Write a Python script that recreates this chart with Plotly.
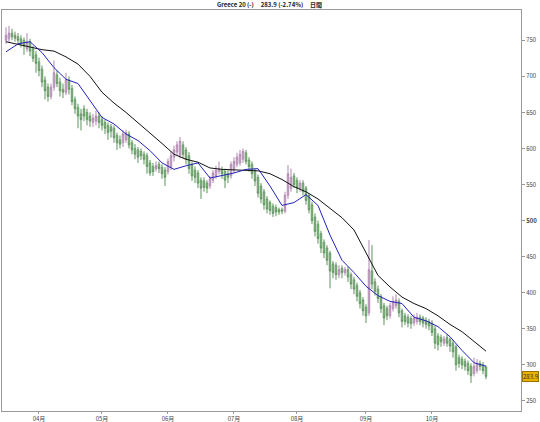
import pandas as pd
import plotly.graph_objects as go

# trading days (weekdays) of the daily chart
dates = pd.bdate_range("2011-03-17", periods=161)

opens = [750, 752, 760, 757, 755, 752, 750, 738, 748, 738, 730, 720, 710, 695, 685, 672, 685, 702, 692, 682,
         678, 695, 683, 668, 657, 648, 655, 650, 645, 636, 638, 645, 640, 636, 632, 630, 628, 618, 612, 608,
         612, 620, 608, 600, 598, 596, 592, 590, 580, 575, 572, 578, 574, 570, 568, 574, 588, 595, 590, 605,
         598, 590, 578, 570, 566, 556, 555, 552, 548, 556, 562, 568, 570, 568, 565, 562, 570, 578, 580, 585,
         594, 584, 578, 568, 560, 548, 540, 530, 525, 520, 518, 515, 515, 513, 535, 545, 562, 556, 545, 552,
         545, 535, 522, 505, 495, 482, 470, 462, 455, 440, 438, 425, 434, 428, 432, 425, 418, 410, 400, 390,
         380, 372, 430, 415, 405, 395, 382, 378, 368, 378, 382, 388, 375, 368, 366, 364, 358, 360, 366, 365,
         362, 360, 358, 350, 340, 338, 330, 338, 335, 330, 325, 310, 308, 305, 302, 298, 288, 292, 302, 300,
         297]
highs = [768, 770, 766, 762, 760, 757, 754, 760, 752, 742, 735, 726, 715, 700, 690, 690, 722, 708, 698, 690,
         705, 700, 688, 672, 662, 655, 660, 655, 650, 648, 652, 650, 645, 640, 636, 634, 632, 622, 618, 625,
         626, 624, 612, 606, 602, 600, 596, 594, 584, 580, 582, 582, 578, 574, 586, 596, 604, 610, 616, 610,
         602, 595, 582, 575, 570, 560, 560, 556, 562, 570, 576, 582, 575, 572, 570, 582, 588, 594, 598, 600,
         598, 588, 582, 572, 564, 552, 544, 534, 528, 524, 522, 518, 518, 540, 577, 572, 566, 560, 556, 556,
         548, 538, 526, 510, 500, 486, 474, 466, 458, 444, 442, 438, 438, 436, 436, 428, 422, 414, 404, 394,
         384, 473, 466, 420, 410, 398, 386, 382, 386, 395, 398, 392, 378, 372, 370, 368, 370, 372, 370, 368,
         366, 364, 362, 354, 344, 342, 340, 342, 338, 334, 328, 314, 312, 309, 306, 302, 310, 308, 306, 304,
         299]
lows = [745, 748, 750, 748, 745, 740, 730, 734, 728, 720, 705, 700, 685, 668, 665, 668, 680, 685, 672, 670,
        674, 675, 660, 648, 628, 625, 638, 632, 630, 630, 632, 628, 625, 620, 612, 615, 608, 598, 600, 602,
        608, 600, 592, 585, 580, 584, 578, 565, 562, 562, 568, 566, 558, 548, 564, 570, 582, 590, 586, 586,
        578, 565, 555, 552, 545, 530, 540, 538, 544, 552, 558, 564, 558, 545, 552, 558, 566, 574, 576, 580,
        578, 568, 558, 548, 532, 524, 515, 510, 508, 505, 506, 508, 509, 510, 530, 540, 545, 538, 540, 535,
        522, 510, 495, 478, 468, 455, 448, 438, 406, 420, 418, 420, 420, 424, 415, 405, 398, 388, 378, 368,
        358, 368, 405, 396, 386, 372, 355, 362, 364, 374, 378, 366, 352, 355, 352, 350, 354, 356, 355, 352,
        350, 348, 340, 322, 320, 325, 326, 325, 318, 310, 292, 296, 294, 292, 286, 275, 284, 288, 292, 287,
        280]
closes = [757, 760, 755, 753, 750, 746, 742, 748, 735, 725, 718, 708, 692, 680, 672, 685, 705, 690, 680, 678,
          695, 682, 665, 655, 645, 640, 645, 640, 638, 642, 645, 636, 632, 628, 622, 624, 615, 608, 606, 620,
          622, 605, 598, 592, 588, 590, 585, 575, 566, 568, 576, 572, 565, 560, 582, 590, 598, 605, 610, 592,
          585, 572, 562, 560, 552, 545, 546, 545, 558, 566, 570, 572, 565, 556, 560, 578, 582, 588, 592, 596,
          582, 575, 565, 555, 538, 530, 522, 516, 514, 510, 512, 512, 513, 535, 565, 560, 550, 545, 552, 540,
          528, 515, 500, 485, 475, 462, 455, 445, 430, 428, 425, 432, 428, 432, 422, 412, 405, 395, 385, 375,
          368, 432, 412, 402, 392, 378, 365, 368, 382, 388, 390, 372, 360, 360, 358, 357, 365, 366, 360, 358,
          356, 354, 345, 330, 328, 332, 336, 330, 326, 318, 300, 302, 300, 298, 292, 285, 298, 302, 298, 292,
          283.9]

# moving averages, read every 4th trading day
ma_step = 4
ma_blue = [734, 745, 748, 733, 712, 696, 690, 667, 643, 634, 620, 611, 597, 580, 571, 576, 580, 559, 562, 566,
           571, 572, 548, 521, 525, 536, 521, 480, 445, 428, 409, 396, 388, 385, 366, 361, 353, 339, 320, 303,
           298]
ma_black = [748, 744, 740, 737, 735, 727, 717, 700, 678, 663, 650, 636, 622, 607, 592, 585, 581, 573, 571, 570,
            569, 569, 565, 557, 547, 540, 530, 517, 504, 487, 455, 424, 408, 394, 385, 378, 368, 356, 346, 332,
            319]

y_ticks = [250, 300, 350, 400, 450, 500, 550, 600, 650, 700, 750]
month_labels = ["04月", "05月", "06月", "07月", "08月", "09月", "10月"]
title_text = "Greece 20 (-)\u00a0\u00a0\u00a0\u00a0\u00a0283.9 (-2.74%)\u00a0\u00a0\u00a0\u00a0\u00a0日間"
last_label = "283.9"

xi = list(range(len(dates)))
ma_x = xi[::ma_step]

# month start positions
month_pos = []
prev = None
for i, d in enumerate(dates):
    if prev is not None and d.month != prev:
        month_pos.append(i)
    prev = d.month

font = "Noto Sans CJK JP"

fig = go.Figure()
fig.add_trace(go.Candlestick(
    x=xi, open=opens, high=highs, low=lows, close=closes,
    increasing=dict(line=dict(color="#b088b0", width=1), fillcolor="#e2c4e2"),
    decreasing=dict(line=dict(color="#5e945e", width=1), fillcolor="#c4e2bc"),
    whiskerwidth=0, showlegend=False, hoverinfo="skip",
))
fig.add_trace(go.Scatter(x=ma_x, y=ma_black, mode="lines",
                         line=dict(color="#111111", width=1), showlegend=False, hoverinfo="skip"))
fig.add_trace(go.Scatter(x=ma_x, y=ma_blue, mode="lines",
                         line=dict(color="#2222bb", width=1), showlegend=False, hoverinfo="skip"))

fig.update_layout(
    width=540, height=422,
    margin=dict(l=2, r=19, t=10, b=11),
    paper_bgcolor="white", plot_bgcolor="white",
    template=None,
    font=dict(family=font, size=6, color="#333333"),
    xaxis=dict(range=[-1.33, 171.67], showgrid=False, zeroline=False, rangeslider=dict(visible=False),
               showline=True, linecolor="#999999", linewidth=1, mirror=True,
               ticks="outside", ticklen=2, tickcolor="#999999",
               tickvals=month_pos, ticktext=month_labels, automargin=False,
               tickfont=dict(family=font, size=6, color="#444444")),
    yaxis=dict(range=[236, 792], side="right", showgrid=False, zeroline=False,
               showline=True, linecolor="#999999", linewidth=1, mirror=True,
               ticks="outside", ticklen=3, tickcolor="#999999",
               tickvals=y_ticks,
               ticktext=["<b>%d</b>" % v if v == 500 else str(v) for v in y_ticks],
               automargin=False,
               tickfont=dict(family=font, size=6, color="#444444")),
    annotations=[
        dict(xref="paper", yref="y", x=1.0, y=closes[-1], xanchor="left", yanchor="middle",
             xshift=1, text=last_label, showarrow=False, bgcolor="#e8b400",
             bordercolor="#9a7000", borderwidth=1, borderpad=0,
             font=dict(family=font, size=6, color="#333333")),
        dict(xref="paper", yref="paper", x=0.515, y=1.0, xanchor="center", yanchor="bottom",
             yshift=-1, text="<b>" + title_text + "</b>", showarrow=False,
             font=dict(family=font, size=6, color="#222222")),
    ],
)

fig.write_html("out.html", config={"displayModeBar": False},
               post_script="document.body.style.margin='0';document.body.style.overflow='hidden';")
